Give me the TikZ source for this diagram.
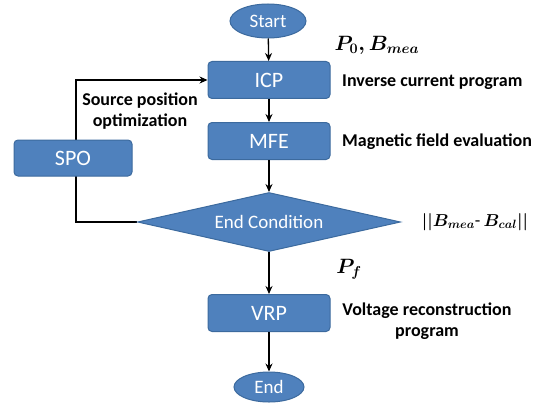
\documentclass[tikz,border=0pt]{standalone}
\usepackage{fontspec}
\setmainfont{Carlito}
\usepackage{amsmath}
\usetikzlibrary{shapes.geometric,arrows.meta,backgrounds}
\definecolor{boxblue}{HTML}{4F81BD}
\definecolor{boxedge}{HTML}{3C6A9E}
\begin{document}
\begin{tikzpicture}[x=1pt,y=-1pt,
  blk/.style={draw=boxedge,line width=1pt,fill=boxblue,rounded corners=4pt,minimum width=122pt,minimum height=37pt,text=white,font=\fontsize{22}{24}\selectfont,inner sep=0pt},
  oval/.style={ellipse,draw=boxedge,line width=1pt,fill=boxblue,text=white,font=\fontsize{19}{22}\selectfont,inner sep=0pt},
  lbl/.style={font=\bfseries\fontsize{18}{21}\selectfont,inner sep=0pt},
  mth/.style={font=\fontsize{18}{21}\selectfont\boldmath,inner sep=0pt},
  arr/.style={-{Stealth[length=8pt,width=7pt]},line width=1.3pt}]
\useasboundingbox (0,0) rectangle (545,409);
\node[oval,minimum width=76pt,minimum height=34pt] (start) at (268,21) {Start};
\node[blk] (icp) at (269,80) {ICP};
\node[blk] (mfe) at (269,141) {MFE};
\node[diamond,draw=boxedge,line width=1pt,fill=boxblue,aspect=4.45,minimum width=263pt,minimum height=59pt,inner sep=0pt] (end) at (269,222) {};
\node[text=white,font=\fontsize{19}{22}\selectfont,inner sep=0pt] (endtxt) at (269,222) {End Condition};
\node[blk,minimum width=118pt,minimum height=36pt] (spo) at (73,158) {SPO};
\node[blk] (vrp) at (269,313) {VRP};
\node[oval,minimum width=70pt,minimum height=30pt] (fin) at (269,387) {End};
\coordinate (c1) at (76,222);
\coordinate (c2) at (76,80);
\draw[arr] (start) -- (icp);
\draw[arr] (icp) -- (mfe);
\draw[arr] (mfe) -- (end.north);
\draw[arr] (end.south) -- (vrp);
\draw[arr] (vrp) -- (fin);
\begin{scope}[on background layer]
\draw[arr] (end.west) -- (c1) -- (c2) -- (icp.west);
\end{scope}
\node[mth,font=\fontsize{21}{24}\selectfont\boldmath] (p0) at (377,45) {$P_0,B_{mea}$};
\node[lbl,anchor=west] (l1) at (342,82) {Inverse current program};
\node[lbl,anchor=west] (l2) at (342,142) {Magnetic field evaluation};
\node[mth] (l3) at (475,222) {$||B_{mea}\text{-}\,B_{cal}||$};
\node[mth,font=\fontsize{20}{24}\selectfont\boldmath] (pf) at (349,269) {$P_f$};
\node[lbl,align=center] (l4) at (427,321) {Voltage reconstruction\\program};
\node[lbl,align=center] (l5) at (140,111) {Source position\\optimization};
\end{tikzpicture}
\end{document}
